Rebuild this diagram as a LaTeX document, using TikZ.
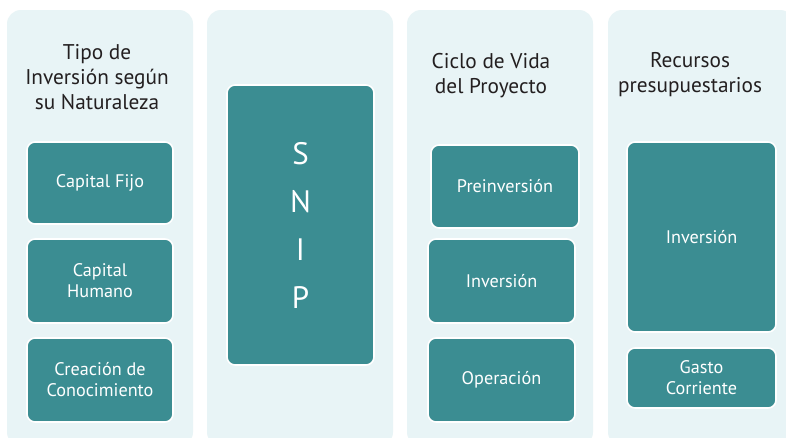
\documentclass[tikz,border=0pt]{standalone}
\usepackage{fontspec}
\setmainfont{PT Sans}
\usepackage{tikz}
\usetikzlibrary{positioning}

\definecolor{tealbox}{RGB}{59,141,146}
\definecolor{palebg}{RGB}{232,244,246}
\definecolor{titlegray}{RGB}{35,31,32}

\tikzset{
  colbg/.style={fill=palebg, rounded corners=14pt, minimum width=186pt, minimum height=436pt, inner sep=0pt},
  itembox/.style={fill=tealbox, draw=white, line width=1.6pt, rounded corners=8pt,
    text=white, align=center, inner sep=0pt, font=\fontsize{18.2}{21}\selectfont},
  coltitle/.style={text=titlegray, align=center, font=\fontsize{21.3}{25}\selectfont}
}

\begin{document}
\begin{tikzpicture}[x=1pt,y=-1pt]
	\clip (0,0) rectangle (786,437);
	\fill[white] (0,0) rectangle (786,437);

	% fondos de columna
	\node[colbg] (col1) at (100, 228) {};
	\node[colbg] (col2) at (300, 228) {};
	\node[colbg] (col3) at (500, 228) {};
	\node[colbg] (col4) at (701, 228) {};

	% titulos
	\node[coltitle] (tipo) at (97, 77) {Tipo de\\Inversión según\\su Naturaleza};
	\node[coltitle] (ciclo) at (491, 76) {Ciclo de Vida\\del Proyecto};
	\node[coltitle] (recur) at (690, 75) {Recursos\\presupuestarios};

	% tipo de inversion
	\node[itembox, minimum width=146pt, minimum height=82pt] (fijo) at (100, 183) {Capital Fijo};
	\node[itembox, minimum width=146pt, minimum height=84pt] (humano) at (100, 281) {Capital\\Humano};
	\node[itembox, minimum width=146pt, minimum height=84pt] (conoc) at (100, 380) {Creación de\\Conocimiento};

	% snip
	\node[itembox, minimum width=147pt, minimum height=280pt,
	      font=\fontsize{31}{48}\selectfont] (snip) at (300.5, 225) {S\\N\\I\\P};

	% ciclo de vida
	\node[itembox, minimum width=148pt, minimum height=83pt] (preinv) at (505, 186.5) {Preinversión};
	\node[itembox, minimum width=147pt, minimum height=84pt] (inv) at (501.5, 281) {Inversión};
	\node[itembox, minimum width=147pt, minimum height=84pt] (oper) at (501.5, 380) {Operación};

	% recursos
	\node[itembox, minimum width=149pt, minimum height=190pt] (rinv) at (701.5, 237) {Inversión};
	\node[itembox, minimum width=149pt, minimum height=60pt] (gasto) at (701.5, 378) {Gasto\\Corriente};
\end{tikzpicture}
\end{document}
